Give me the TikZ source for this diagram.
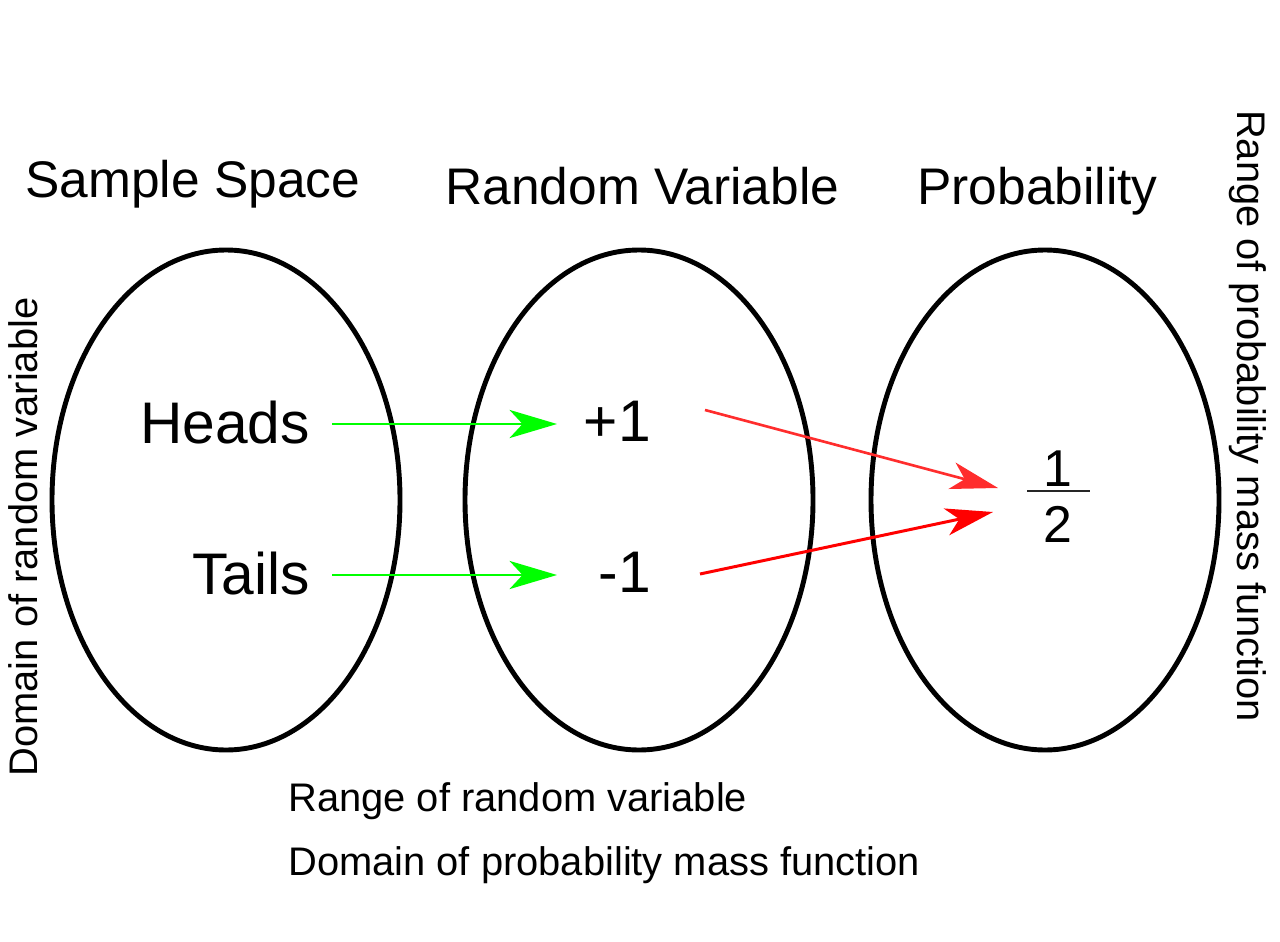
\documentclass[tikz,border=0pt]{standalone}
\usepackage{fontspec}
\setmainfont{Liberation Sans}
\usetikzlibrary{arrows.meta}
\definecolor{lightred}{RGB}{255,45,45}
\tikzset{
  oval/.style={draw=black, line width=2.8pt},
  title/.style={inner sep=0pt, anchor=base west, font=\fontsize{29.3}{35}\selectfont},
  item/.style={inner sep=0pt, anchor=base east, font=\fontsize{33.4}{40}\selectfont},
  note/.style={inner sep=0pt, font=\fontsize{22.7}{27}\selectfont},
  frac/.style={inner sep=0pt, anchor=base, font=\fontsize{29.5}{35}\selectfont},
  greenarrow/.style={draw=green, line width=1.7pt, -{Stealth[length=27pt, width=16pt, inset=7.4pt]}},
  redarrow/.style={line width=1.5pt, -{Stealth[length=27pt, width=15.5pt, inset=7.4pt]}}
}
\begin{document}
\begin{tikzpicture}[x=0.02cm, y=-0.02cm]
\useasboundingbox (0,0) rectangle (1280,942);
% ellipses
\draw[oval] (226,500) ellipse [x radius=174, y radius=250];
\draw[oval] (639,500) ellipse [x radius=174, y radius=250];
\draw[oval] (1045,500) ellipse [x radius=174, y radius=250];
% titles
\node[title] (t1) at (25,198) {Sample Space};
\node[title] (t2) at (445,205) {Random Variable};
\node[title] (t3) at (917,205) {Probability};
% items
\node[item] (heads) at (310,443) {Heads};
\node[item] (tails) at (310,594) {Tails};
\node[item] (plus) at (651,441) {+1};
\node[item] (minus) at (651,592) {-1};
% fraction
\node[frac] (one) at (1058,486) {1};
\node[frac] (two) at (1058,542) {2};
\draw[line width=1.7pt, draw=black!85] (1027,491) -- (1090,491);
% side notes
\node[note, rotate=90, anchor=base] (dom) at (37,537) {Domain of random variable};
\node[note, rotate=-90, anchor=base] (rng) at (1237,416) {Range of probability mass function};
\node[note, anchor=base west] (b1) at (288,811) {Range of random variable};
\node[note, anchor=base west] (b2) at (288,875) {Domain of probability mass function};
% arrow end points
\coordinate (hs) at (332,424);
\coordinate (he) at (557,424);
\coordinate (ts) at (332,575);
\coordinate (te) at (557,575);
\coordinate (ps) at (705,410);
\coordinate (pe) at (998,488);
\coordinate (ms) at (700,574);
\coordinate (me) at (993,512);
\draw[greenarrow] (hs) -- (he);
\draw[greenarrow] (ts) -- (te);
\draw[redarrow, draw=lightred, fill=lightred] (ps) -- (pe);
\draw[redarrow, draw=red, fill=red, line width=1.7pt] (ms) -- (me);
\end{tikzpicture}
\end{document}
